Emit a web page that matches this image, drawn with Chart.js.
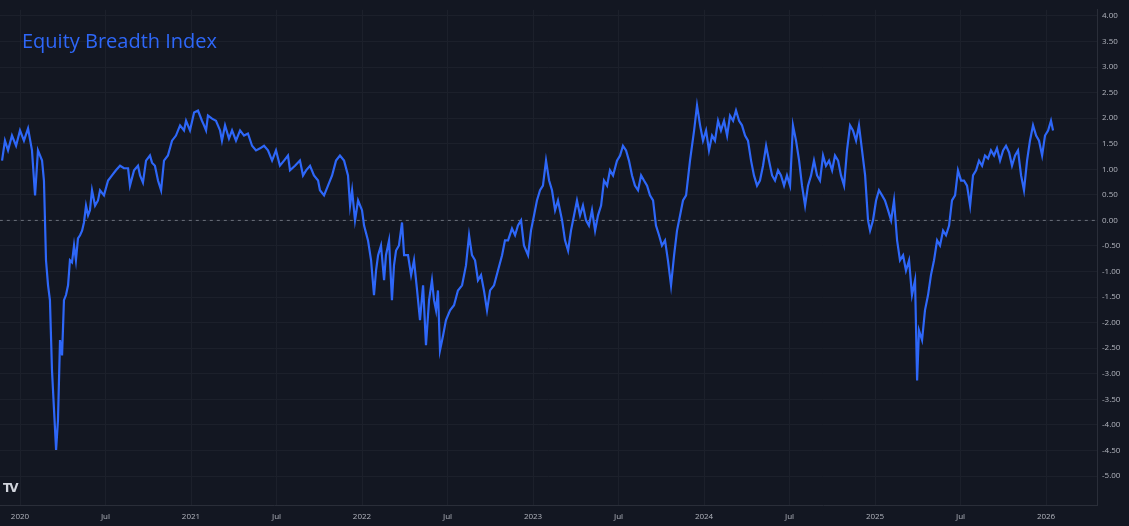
<!DOCTYPE html>
<html><head><meta charset="utf-8">
<script src="https://cdn.jsdelivr.net/npm/chart.js@4.4.1/dist/chart.umd.min.js"></script>
<style>html,body{margin:0;padding:0;background:#131722;overflow:hidden}#w{position:relative;width:1129px;height:526px}
#t{position:absolute;left:22px;top:27px;color:#2e67f8;font:20px "Open Sans",sans-serif}
#tv{position:absolute;left:3px;top:481px;color:#d1d4dc;font:bold 12px "DejaVu Sans",sans-serif;letter-spacing:-2px}</style>
</head><body><div id="w"><canvas id="c" width="1129" height="526"></canvas><div id="t">Equity Breadth Index</div><div id="tv">TV</div></div>
<script>
// time in years since 2020-01-01
const t = [-0.105,-0.088,-0.070,-0.047,-0.023,0,0.023,0.047,0.070,0.088,0.105,0.129,0.140,0.152,0.164,0.175,0.187,0.199,0.211,0.222,0.234,0.246,0.257,0.269,0.281,0.292,0.304,0.316,0.327,0.339,0.351,0.363,0.374,0.386,0.398,0.409,0.421,0.439,0.456,0.468,0.491,0.515,0.538,0.561,0.585,0.608,0.632,0.643,0.667,0.690,0.702,0.719,0.737,0.760,0.772,0.789,0.807,0.825,0.842,0.865,0.889,0.912,0.936,0.959,0.971,0.994,1.018,
1.041,1.064,1.076,1.088,1.099,1.123,1.146,1.170,1.181,1.199,1.222,1.240,1.263,1.287,1.310,1.333,1.357,1.380,1.404,1.427,1.450,1.474,1.497,1.520,1.544,1.567,1.579,1.608,1.637,1.655,1.673,1.696,1.719,1.743,1.754,1.778,1.801,1.825,1.848,1.871,1.895,1.918,1.930,1.942,1.959,1.977,2.000,2.012,2.035,2.053,2.070,2.082,2.094,2.111,2.129,2.140,2.158,2.175,2.187,2.199,2.216,2.234,2.246,2.269,2.287,2.304,2.322,2.339,2.357,2.374,2.392,2.409,2.421,2.433,2.444,2.456,2.474,2.491,2.515,2.538,2.561,2.585,2.608,2.626,2.643,2.661,2.678,2.696,2.713,2.731,2.749,2.772,2.795,2.819,2.836,2.854,2.877,2.895,2.912,2.930,2.947,2.971,2.988,3.006,
3.023,3.041,3.058,3.076,3.094,3.111,3.129,3.146,3.170,3.187,3.205,3.222,3.240,3.257,3.275,3.292,3.310,3.327,3.345,3.363,3.380,3.398,3.415,3.433,3.450,3.468,3.491,3.509,3.526,3.544,3.561,3.579,3.596,3.614,3.632,3.649,3.667,3.684,3.702,3.719,3.737,3.754,3.772,3.789,3.807,3.825,3.842,3.860,3.877,3.895,3.918,3.942,3.959,
3.977,3.994,4.012,4.029,4.047,4.064,4.082,4.099,4.117,4.135,4.152,4.170,4.187,4.205,4.222,4.240,4.257,4.275,4.292,4.310,4.327,4.345,4.363,4.380,4.398,4.415,4.433,4.450,4.468,4.485,4.503,4.520,4.538,4.556,4.573,4.591,4.608,4.626,4.643,4.661,4.678,4.696,4.713,4.731,4.749,4.766,4.784,4.801,4.819,4.836,4.854,4.871,4.889,4.906,4.924,4.942,4.959,4.971,4.988,5.006,5.023,
5.041,5.058,5.076,5.094,5.111,5.129,5.146,5.164,5.181,5.199,5.216,5.234,5.246,5.257,5.275,5.292,5.310,5.327,5.345,5.363,5.380,5.398,5.415,5.433,5.450,5.468,5.485,5.503,5.520,5.538,5.556,5.573,5.591,5.608,5.626,5.643,5.661,5.678,5.696,5.713,5.731,5.749,5.766,5.784,5.801,5.819,5.836,5.854,5.871,5.889,5.906,5.924,5.942,5.959,5.977,5.994,6.012,6.029,6.041];
const v = [1.17,1.56,1.37,1.66,1.46,1.76,1.56,1.80,1.37,0.49,1.37,1.17,0.78,-0.78,-1.27,-1.56,-2.93,-3.71,-4.49,-3.91,-2.34,-2.64,-1.56,-1.46,-1.27,-0.78,-0.82,-0.49,-0.78,-0.35,-0.29,-0.20,-0.04,0.29,0.10,0.20,0.59,0.29,0.39,0.59,0.49,0.78,0.88,0.98,1.07,1.02,1.02,0.68,0.98,1.07,0.88,0.74,1.17,1.27,1.13,1.07,0.78,0.59,1.17,1.27,1.56,1.66,1.86,1.76,1.95,1.76,2.11,
2.15,1.95,1.86,1.76,2.05,1.99,1.95,1.76,1.56,1.86,1.60,1.76,1.56,1.76,1.66,1.70,1.46,1.37,1.41,1.46,1.37,1.17,1.37,1.07,1.17,1.27,0.98,1.07,1.17,0.88,0.98,1.07,0.88,0.78,0.59,0.49,0.68,0.88,1.17,1.27,1.17,0.88,0.29,0.59,0,0.39,0.20,-0.10,-0.39,-0.78,-1.46,-0.98,-0.68,-0.49,-1.17,-0.68,-0.39,-1.56,-0.88,-0.59,-0.49,-0.04,-0.68,-0.68,-1.07,-0.78,-1.37,-1.95,-1.27,-2.44,-1.56,-1.17,-1.56,-1.76,-1.37,-2.54,-2.25,-1.95,-1.76,-1.66,-1.37,-1.27,-0.88,-0.29,-0.68,-0.78,-1.17,-1.07,-1.37,-1.76,-1.37,-1.27,-0.98,-0.68,-0.39,-0.39,-0.16,-0.29,-0.10,0,-0.49,-0.68,-0.20,0.10,
0.39,0.59,0.68,1.17,0.78,0.59,0.20,0.39,0,-0.39,-0.59,-0.20,0.10,0.39,0.10,0.29,0,-0.10,0.20,-0.20,0.10,0.29,0.78,0.68,0.98,0.88,1.17,1.27,1.46,1.37,1.17,0.88,0.68,0.59,0.88,0.78,0.68,0.49,0.39,-0.10,-0.29,-0.49,-0.39,-0.78,-1.27,-0.68,-0.20,0.10,0.39,0.49,1.17,1.76,2.25,
1.86,1.56,1.76,1.37,1.66,1.56,1.95,1.76,1.95,1.66,2.05,1.95,2.15,1.95,1.86,1.66,1.56,1.17,0.88,0.68,0.78,1.07,1.46,1.17,0.88,0.78,0.98,0.88,0.68,0.88,0.68,1.86,1.56,1.17,0.68,0.29,0.68,0.88,1.17,0.88,0.78,1.27,1.07,1.17,0.98,1.27,1.17,0.88,0.68,1.37,1.86,1.76,1.56,1.86,1.37,0.88,0,-0.20,0,0.39,0.59,
0.49,0.39,0.20,0,0.39,-0.39,-0.78,-0.68,-0.98,-0.78,-1.46,-1.17,-3.13,-2.15,-2.34,-1.76,-1.46,-1.07,-0.78,-0.39,-0.49,-0.20,-0.29,-0.10,0.39,0.49,0.98,0.78,0.78,0.68,0.29,0.88,0.98,1.17,1.07,1.27,1.21,1.37,1.27,1.41,1.17,1.37,1.46,1.33,1.07,1.27,1.37,0.88,0.59,1.17,1.56,1.86,1.66,1.56,1.27,1.66,1.76,1.95,1.76];
const yTicks = [-5,-4.5,-4,-3.5,-3,-2.5,-2,-1.5,-1,-0.5,0,0.5,1,1.5,2,2.5,3,3.5,4];
const xTicks = [0,0.5,1,1.5,2,2.5,3,3.5,4,4.5,5,5.5,6];
const xTickLabels = ['2020','Jul','2021','Jul','2022','Jul','2023','Jul','2024','Jul','2025','Jul','2026'];

const pts = t.map((x,i)=>({x, y:v[i]}));
new Chart(document.getElementById('c'), {
  type:'scatter',
  data:{datasets:[
    {data:pts, showLine:true, borderColor:'#2e67f8', borderWidth:2.2, pointRadius:0, tension:0},
    {data:[{x:-0.2,y:0},{x:6.4,y:0}], showLine:true, borderColor:'#6b6f7a', borderWidth:1, borderDash:[3,4], pointRadius:0}
  ]},
  options:{
    animation:false, responsive:false, devicePixelRatio:1,
    layout:{padding:0},
    plugins:{legend:{display:false}, tooltip:{enabled:false}},
    scales:{
      x:{type:'linear', min:-0.117, max:6.298,
        afterBuildTicks:s=>{s.ticks=xTicks.map(value=>({value}));},
        afterFit:s=>{s.height=21;},
        grid:{color:'#1c202b', drawTicks:false},
        border:{color:'#2a2e39'},
        ticks:{color:'#b2b5be', font:{size:8, family:'"Open Sans"'}, padding:7, maxRotation:0,
          callback:(val)=>{const i=xTicks.indexOf(val);return i>=0?xTickLabels[i]:'';}}},
      y:{position:'right', min:-5.567, max:4.12,
        afterBuildTicks:s=>{s.ticks=yTicks.map(value=>({value}));},
        afterFit:s=>{s.width=32;},
        grid:{color:'#1c202b', drawTicks:false},
        border:{color:'#2a2e39'},
        ticks:{color:'#b2b5be', font:{size:8, family:'"Open Sans"'}, padding:5,
          callback:val=>val.toFixed(2)}}
    }
  }
});
</script></body></html>
